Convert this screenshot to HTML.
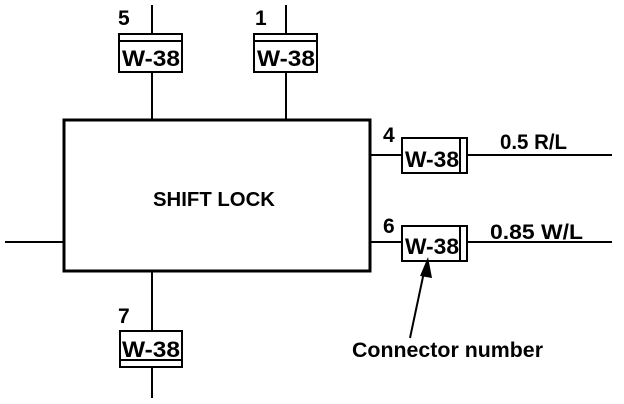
<!DOCTYPE html>
<html><head><style>
html,body{margin:0;padding:0;background:#fff;width:624px;height:404px;overflow:hidden}
</style></head><body>
<svg width="624" height="404" viewBox="0 0 624 404" xmlns="http://www.w3.org/2000/svg" font-family="Liberation Sans, Arial, sans-serif" font-weight="bold">
<g stroke="#000" fill="none" stroke-width="2">
<rect x="64" y="120" width="306" height="151" stroke-width="3"/>
<line x1="152" y1="5" x2="152" y2="34"/>
<line x1="152" y1="72" x2="152" y2="120"/>
<rect x="119" y="34" width="63" height="38"/>
<line x1="119" y1="41" x2="182" y2="41"/>
<line x1="286" y1="5" x2="286" y2="34"/>
<line x1="286" y1="72" x2="286" y2="120"/>
<rect x="254" y="34" width="63" height="38"/>
<line x1="254" y1="41" x2="317" y2="41"/>
<line x1="370" y1="155" x2="402" y2="155"/>
<line x1="468" y1="155" x2="612" y2="155"/>
<rect x="402" y="138" width="65" height="35"/>
<line x1="460" y1="138" x2="460" y2="173"/>
<line x1="370" y1="242" x2="402" y2="242"/>
<line x1="468" y1="242" x2="612" y2="242"/>
<rect x="402" y="226" width="65" height="35"/>
<line x1="460" y1="226" x2="460" y2="261"/>
<line x1="5" y1="242" x2="64" y2="242"/>
<line x1="152" y1="271" x2="152" y2="331"/>
<line x1="152" y1="367" x2="152" y2="398"/>
<rect x="120" y="331" width="62" height="36"/>
<line x1="120" y1="360" x2="182" y2="360"/>
<line x1="410" y1="338" x2="424" y2="272"/>
</g>
<polygon points="428,257 420,276 432,278" fill="#000"/>
<g font-size="20" fill="#000">
<text x="153" y="206" textLength="122" lengthAdjust="spacingAndGlyphs" font-size="20">SHIFT LOCK</text>
<text x="122" y="66" textLength="58" lengthAdjust="spacingAndGlyphs" font-size="22">W-38</text>
<text x="257" y="66" textLength="58" lengthAdjust="spacingAndGlyphs" font-size="22">W-38</text>
<text x="405" y="167" textLength="54" lengthAdjust="spacingAndGlyphs" font-size="22">W-38</text>
<text x="405" y="254" textLength="54" lengthAdjust="spacingAndGlyphs" font-size="22">W-38</text>
<text x="122" y="357" textLength="58" lengthAdjust="spacingAndGlyphs" font-size="22">W-38</text>
<text x="118" y="25" font-size="21">5</text>
<text x="255" y="25" font-size="21">1</text>
<text x="383" y="142" font-size="21">4</text>
<text x="383" y="233" font-size="21">6</text>
<text x="118" y="323" font-size="21">7</text>
<text x="500" y="149" textLength="67" lengthAdjust="spacingAndGlyphs" font-size="21">0.5 R/L</text>
<text x="490" y="239" textLength="93" lengthAdjust="spacingAndGlyphs" font-size="21">0.85 W/L</text>
<text x="352" y="357" textLength="191" lengthAdjust="spacingAndGlyphs" font-size="21">Connector number</text>
</g>
</svg>
</body></html>
